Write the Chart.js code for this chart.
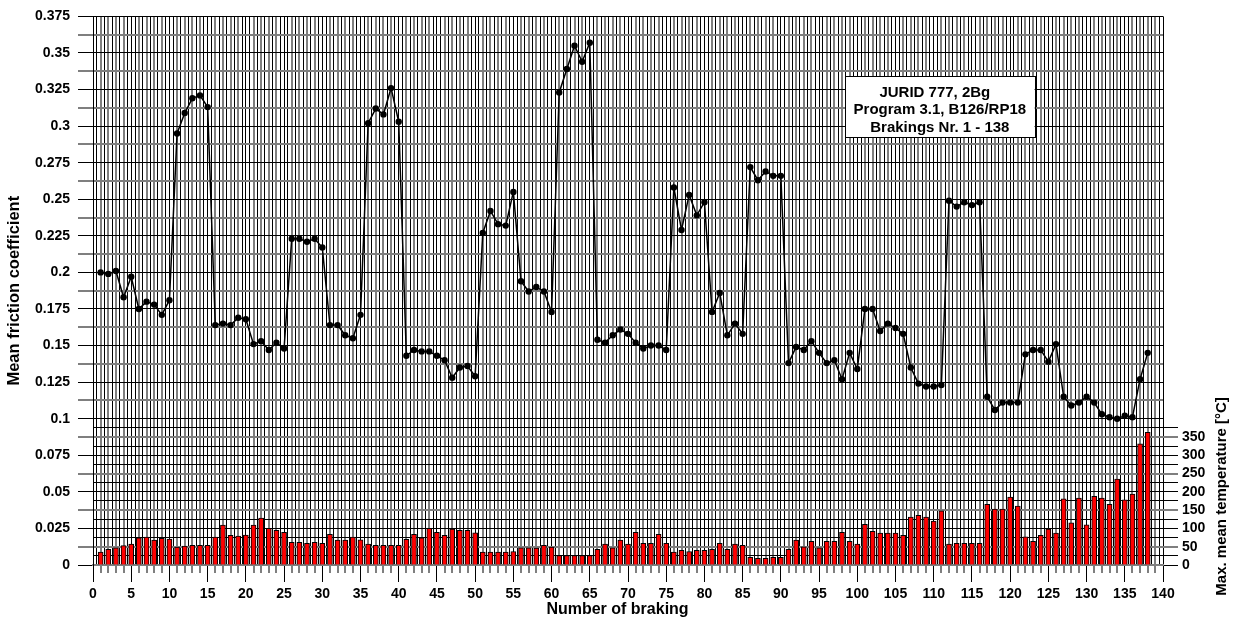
<!DOCTYPE html>
<html>
<head>
<meta charset="utf-8">
<script src="https://cdn.jsdelivr.net/npm/chart.js@4.4.1/dist/chart.umd.min.js"></script>
<style>
  html, body { margin: 0; padding: 0; background: #ffffff; }
  #wrap { width: 1235px; height: 623px; position: relative; }
</style>
</head>
<body>
<div id="wrap"><canvas id="chart"></canvas></div>
<script>
// Braking test: mean friction coefficient and max. mean temperature per braking
const brakingNumbers = Array.from({ length: 138 }, (_, i) => i + 1);

const frictionCoeff = [
  0.200, 0.199, 0.201, 0.183, 0.197, 0.175, 0.180, 0.178, 0.171, 0.181,
  0.295, 0.309, 0.319, 0.321, 0.313, 0.164, 0.165, 0.164, 0.169, 0.168,
  0.151, 0.153, 0.147, 0.152, 0.148, 0.223, 0.223, 0.221, 0.223, 0.217,
  0.164, 0.164, 0.157, 0.155, 0.171, 0.302, 0.312, 0.308, 0.326, 0.303,
  0.143, 0.147, 0.146, 0.146, 0.143, 0.140, 0.128, 0.135, 0.136, 0.129,
  0.227, 0.242, 0.233, 0.232, 0.255, 0.194, 0.187, 0.190, 0.187, 0.173,
  0.323, 0.339, 0.355, 0.344, 0.357, 0.154, 0.152, 0.157, 0.161, 0.158,
  0.152, 0.148, 0.150, 0.150, 0.147, 0.258, 0.229, 0.253, 0.239, 0.248,
  0.173, 0.186, 0.157, 0.165, 0.158, 0.272, 0.263, 0.269, 0.266, 0.266,
  0.138, 0.149, 0.147, 0.153, 0.145, 0.138, 0.140, 0.127, 0.145, 0.134,
  0.175, 0.175, 0.160, 0.165, 0.162, 0.158, 0.135, 0.124, 0.122, 0.122,
  0.123, 0.249, 0.245, 0.248, 0.246, 0.248, 0.115, 0.106, 0.111, 0.111,
  0.111, 0.144, 0.147, 0.147, 0.139, 0.151, 0.115, 0.109, 0.111, 0.115,
  0.111, 0.103, 0.101, 0.100, 0.102, 0.101, 0.127, 0.145
];

const maxTemperature = [
  35, 43, 47, 53, 57, 74, 76, 68, 73, 71,
  49, 52, 54, 54, 54, 76, 109, 81, 79, 82,
  109, 128, 100, 95, 89, 62, 62, 59, 62, 59,
  84, 68, 68, 76, 69, 57, 54, 54, 54, 54,
  70, 84, 74, 100, 89, 81, 98, 95, 95, 88,
  35, 35, 35, 35, 37, 47, 47, 46, 54, 49,
  26, 26, 26, 26, 26, 43, 57, 47, 68, 57,
  89, 59, 59, 84, 59, 35, 40, 37, 40, 40,
  43, 59, 43, 57, 54, 21, 18, 18, 21, 21,
  43, 68, 50, 65, 47, 65, 65, 89, 65, 57,
  111, 92, 87, 87, 87, 81, 131, 136, 131, 120,
  148, 57, 59, 59, 59, 59, 166, 153, 153, 186,
  161, 77, 65, 81, 98, 87, 181, 115, 183, 110,
  188, 183, 166, 235, 178, 194, 331, 363
];

const brakingTickLabels = ['0', '5', '10', '15', '20', '25', '30', '35', '40', '45', '50', '55', '60', '65', '70',
  '75', '80', '85', '90', '95', '100', '105', '110', '115', '120', '125', '130', '135', '140'];
const frictionTickLabels = ['0', '0.025', '0.05', '0.075', '0.1', '0.125', '0.15', '0.175', '0.2', '0.225',
  '0.25', '0.275', '0.3', '0.325', '0.35', '0.375'];
const temperatureTickLabels = ['0', '50', '100', '150', '200', '250', '300', '350'];

const infoLines = ['JURID 777, 2Bg', 'Program 3.1, B126/RP18', 'Brakings Nr. 1 - 138'];

// ---- axis tick positions ----
const X_MAX = 140, FRICTION_MAX = 0.375, TEMP_MAX = 1500;
const xMajorValues = brakingTickLabels.map(Number);
const xMinorValues = Array.from({ length: X_MAX + 1 }, (_, i) => i);
const xHalfValues = Array.from({ length: X_MAX }, (_, i) => i + 0.5);
const yValues = Array.from({ length: 31 }, (_, i) => +(i * 0.0125).toFixed(4));
const y2Values = Array.from({ length: 16 }, (_, i) => i * 25);

const FONT = "'Liberation Sans', Arial, Helvetica, sans-serif";
const BLACK = '#000000';
const GREY = '#7f7f7f';

const setTicks = values => scale => { scale.ticks = values.map(v => ({ value: v })); };

// Info box with the test description, placed in data coordinates
const infoBoxPlugin = {
  id: 'infoBox',
  afterDatasetsDraw(chart) {
    const { ctx, scales } = chart;
    const x0 = scales.x.getPixelForValue(98.4), x1 = scales.x.getPixelForValue(123.2);
    const y0 = scales.y.getPixelForValue(0.334), y1 = scales.y.getPixelForValue(0.2925);
    ctx.save();
    ctx.fillStyle = '#ffffff';
    ctx.fillRect(x0, y0, x1 - x0, y1 - y0);
    ctx.strokeStyle = BLACK;
    ctx.lineWidth = 1;
    ctx.strokeRect(Math.round(x0) + 0.5, Math.round(y0) + 0.5, Math.round(x1 - x0), Math.round(y1 - y0));
    ctx.fillStyle = BLACK;
    ctx.font = 'bold 15px ' + FONT;
    ctx.textAlign = 'center';
    ctx.textBaseline = 'middle';
    const cx = (x0 + x1) / 2;
    const top = y0 + 16;
    infoLines.forEach((t, i) => ctx.fillText(t, cx + (i === 0 ? -5 : 0), top + i * 17.5));
    ctx.restore();
  }
};

// Axis titles: braking number centred on the page, temperature centred on its labelled range
const axisTitlePlugin = {
  id: 'axisTitles',
  afterDraw(chart) {
    const { ctx, scales } = chart;
    ctx.save();
    ctx.fillStyle = BLACK;
    ctx.textAlign = 'center';
    ctx.textBaseline = 'middle';

    ctx.font = 'bold 16px ' + FONT;
    ctx.fillText('Number of braking', chart.width / 2, scales.xMajor.bottom - 13);

    const s = scales.y2;
    const cy = s.getPixelForValue(y2Values[y2Values.length - 1] / 2);
    ctx.translate(s.right - 13, cy);
    ctx.rotate(-Math.PI / 2);
    ctx.font = 'bold 15px ' + FONT;
    ctx.fillText('Max. mean temperature [°C]', 0, 0);
    ctx.restore();
  }
};

const tickFont = { family: FONT, size: 14, weight: 'bold' };
const titleFont = { family: FONT, size: 16.5, weight: 'bold' };

new Chart(document.getElementById('chart'), {
  type: 'bar',
  data: {
    datasets: [
      {
        type: 'line',
        label: 'Mean friction coefficient',
        data: brakingNumbers.map((n, i) => ({ x: n, y: frictionCoeff[i] })),
        xAxisID: 'x',
        yAxisID: 'y',
        borderColor: BLACK,
        borderWidth: 1.5,
        pointRadius: 3.2,
        pointBackgroundColor: BLACK,
        pointBorderColor: BLACK,
        pointBorderWidth: 0,
        tension: 0,
        order: 1
      },
      {
        type: 'bar',
        label: 'Max. mean temperature',
        data: brakingNumbers.map((n, i) => ({ x: n, y: maxTemperature[i] })),
        xAxisID: 'x',
        yAxisID: 'y2',
        backgroundColor: '#ff0000',
        borderColor: BLACK,
        borderWidth: 1,
        barThickness: 5,
        order: 2
      }
    ]
  },
  options: {
    responsive: true,
    maintainAspectRatio: false,
    animation: false,
    devicePixelRatio: 1,
    layout: { padding: { top: 16, left: 0, right: 0, bottom: 0 } },
    plugins: { legend: { display: false }, tooltip: { enabled: false } },
    scales: {
      x: {
        type: 'linear', position: 'bottom', weight: 0, offset: false,
        min: 0, max: X_MAX,
        afterBuildTicks: setTicks(xMinorValues),
        afterFit: s => { s.height = 8; },
        ticks: { display: false, autoSkip: false },
        grid: {
          offset: false,
          color: c => (c.tick && c.tick.value % 5 === 0) ? BLACK : GREY,
          lineWidth: c => (c.tick && c.tick.value % 5 === 0) ? 1 : 2,
          tickLength: 8
        },
        border: { display: true, color: GREY, width: 2 }
      },
      xMajor: {
        type: 'linear', position: 'bottom', weight: 1, offset: false,
        min: 0, max: X_MAX,
        afterBuildTicks: setTicks(xMajorValues),
        afterFit: s => { s.height = 50; },
        ticks: {
          autoSkip: false, maxRotation: 0, padding: 4, color: BLACK, font: tickFont,
          callback: (v, i) => brakingTickLabels[i]
        },
        grid: { offset: false, drawOnChartArea: false, color: BLACK, lineWidth: 1, tickLength: 9 },
        border: { display: false }
      },
      xHalf: {
        type: 'linear', position: 'bottom', weight: 2, offset: false,
        min: 0, max: X_MAX,
        afterBuildTicks: setTicks(xHalfValues),
        afterFit: s => { s.height = 0; },
        ticks: { display: false, autoSkip: false },
        grid: { offset: false, drawTicks: false, color: BLACK, lineWidth: 1 },
        border: { display: false }
      },
      y: {
        type: 'linear', position: 'left',
        min: 0, max: FRICTION_MAX,
        afterBuildTicks: setTicks(yValues),
        afterFit: s => { s.width = 93; },
        ticks: {
          autoSkip: false, padding: 8, color: BLACK, font: tickFont,
          callback: (v, i) => (i % 2 === 0 ? frictionTickLabels[i / 2] : '')
        },
        grid: {
          color: c => (c.index % 2 === 0 ? BLACK : GREY),
          lineWidth: c => (c.index % 2 === 0 ? 1 : 2),
          tickLength: 15
        },
        border: { display: true, color: BLACK, width: 1 },
        title: { display: true, text: 'Mean friction coefficient', color: BLACK, font: titleFont, padding: { top: 5, bottom: 0 } }
      },
      y2: {
        type: 'linear', position: 'right',
        min: 0, max: TEMP_MAX,
        afterBuildTicks: setTicks(y2Values),
        afterFit: s => { s.width = 72; },
        ticks: {
          autoSkip: false, padding: 4, color: BLACK, font: tickFont,
          callback: (v, i) => (i % 2 === 0 ? temperatureTickLabels[i / 2] : '')
        },
        grid: {
          color: c => (c.index % 2 === 1 ? BLACK : (c.index % 4 === 0 ? BLACK : GREY)),
          lineWidth: c => (c.index % 2 === 1 ? 1 : (c.index % 4 === 0 ? 1 : 2)),
          tickLength: 15
        },
        border: { display: false }
      }
    }
  },
  plugins: [infoBoxPlugin, axisTitlePlugin]
});
</script>
</body>
</html>
